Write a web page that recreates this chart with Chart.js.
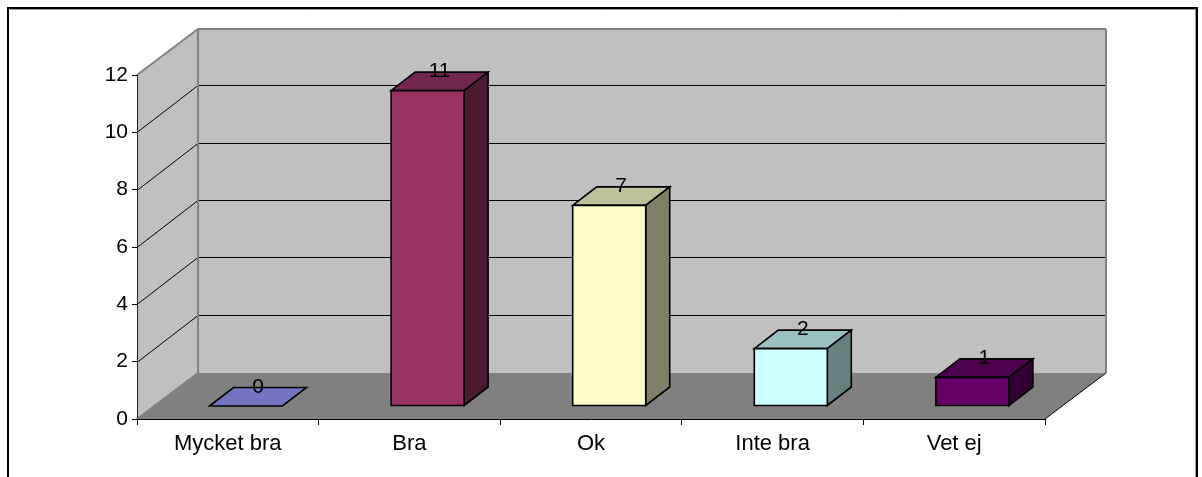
<!DOCTYPE html>
<html>
<head>
<meta charset="utf-8">
<style>
html,body{margin:0;padding:0;background:#fff;overflow:hidden}
#w{width:1202px;height:477px;position:relative}
</style>
<script src="https://cdn.jsdelivr.net/npm/chart.js@4"></script>
</head>
<body>
<div id="w"><canvas id="c" width="1202" height="477"></canvas></div>
<script>
const categories = ['Mycket bra', 'Bra', 'Ok', 'Inte bra', 'Vet ej'];
const values = [0, 11, 7, 2, 1];
const yMin = 0, yMax = 12, yStep = 2;

const frontColors = ['#7373BF', '#993366', '#FFFFCC', '#CCFFFF', '#660066'];
const topColors   = ['#7373BF', '#732650', '#BFBF99', '#99BFBF', '#4D004D'];
const sideColors  = ['#7373BF', '#4D1A33', '#808066', '#668080', '#330033'];

const FONT = '"Liberation Sans", Arial, sans-serif';
const FS_X = 22, FS_Y = 21, FS_LABEL = 21;
const wall = {dx: 61, dy: -46};      // depth of the back wall
const bar3d = {dx: 24, dy: -18.5};   // depth of each bar
const shift = {x: 18.2, y: -13};     // bars stand in the middle of the floor

function poly(ctx, pts, fill, stroke, lw) {
  ctx.beginPath();
  pts.forEach((p, i) => i ? ctx.lineTo(p[0], p[1]) : ctx.moveTo(p[0], p[1]));
  ctx.closePath();
  if (fill) { ctx.fillStyle = fill; ctx.fill(); }
  if (stroke) { ctx.strokeStyle = stroke; ctx.lineWidth = lw; ctx.lineJoin = 'miter'; ctx.stroke(); }
}
function line(ctx, x1, y1, x2, y2, color, lw) {
  ctx.beginPath(); ctx.moveTo(x1, y1); ctx.lineTo(x2, y2);
  ctx.strokeStyle = color; ctx.lineWidth = lw; ctx.stroke();
}

const scene3d = {
  id: 'scene3d',
  beforeDraw(chart) {
    const {ctx, chartArea: a, scales: {y}} = chart;
    const {dx, dy} = wall;
    ctx.save();
    // outer frame
    ctx.strokeStyle = '#000'; ctx.lineWidth = 2;
    ctx.strokeRect(8, 8, 1189, 600);
    line(ctx, 9.5, 9.5, 1196, 9.5, '#999', 1);
    line(ctx, 1195.5, 9.5, 1195.5, 477, '#999', 1);
    // walls and floor
    poly(ctx, [[a.left + dx, a.top + dy], [a.right + dx, a.top + dy], [a.right + dx, a.bottom + dy], [a.left + dx, a.bottom + dy]], '#C0C0C0');
    poly(ctx, [[a.left, a.top], [a.left + dx, a.top + dy], [a.left + dx, a.bottom + dy], [a.left, a.bottom]], '#C0C0C0');
    poly(ctx, [[a.left, a.bottom], [a.left + dx, a.bottom + dy], [a.right + dx, a.bottom + dy], [a.right, a.bottom]], '#808080');
    // gridlines on both walls
    y.ticks.forEach(t => {
      if (t.value === yMin || t.value === yMax) return;
      const py = y.getPixelForValue(t.value);
      const back = Math.round(py + dy) - 0.5;
      line(ctx, a.left, Math.round(py) + 0.5, a.left + dx, back, '#000', 1);
      line(ctx, a.left + dx, back, a.right + dx, back, '#000', 1);
    });
    // wall edges
    line(ctx, a.left, a.top, a.left + dx, a.top + dy, '#808080', 2);
    line(ctx, a.left + dx, a.top + dy, a.right + dx, a.top + dy, '#808080', 2);
    line(ctx, a.right + dx, a.top + dy, a.right + dx, a.bottom + dy, '#808080', 2);
    line(ctx, a.left + dx, a.top + dy, a.left + dx, a.bottom + dy, '#808080', 2);
    line(ctx, a.left, a.bottom, a.left + dx, a.bottom + dy, '#808080', 2);
    line(ctx, a.right, a.bottom, a.right + dx, a.bottom + dy, '#000', 1);
    ctx.restore();
  },
  beforeDatasetsDraw(chart) {
    const {ctx} = chart;
    const {dx, dy} = bar3d;
    ctx.save();
    ctx.translate(shift.x, shift.y);
    chart.getDatasetMeta(0).data.forEach((el, i) => {
      const p = el.getProps(['x', 'y', 'base', 'width'], true);
      const l = p.x - p.width / 2, r = p.x + p.width / 2;
      poly(ctx, [[l, p.y], [l + dx, p.y + dy], [r + dx, p.y + dy], [r, p.y]], topColors[i], '#000', 1.6);
      if (values[i] > 0) poly(ctx, [[r, p.y], [r + dx, p.y + dy], [r + dx, p.base + dy], [r, p.base]], sideColors[i], '#000', 1.6);
    });
  },
  afterDatasetsDraw(chart) {
    const {ctx} = chart;
    chart.getDatasetMeta(0).data.forEach((el, i) => {
      const p = el.getProps(['x', 'y', 'base', 'width'], true);
      const l = p.x - p.width / 2, r = p.x + p.width / 2;
      if (values[i] > 0) poly(ctx, [[l, p.y], [r, p.y], [r, p.base], [l, p.base]], null, '#000', 1.6);
    });
    chart.getDatasetMeta(0).data.forEach((el, i) => {
      const p = el.getProps(['x', 'y'], true);
      ctx.fillStyle = '#000';
      ctx.font = FS_LABEL + 'px ' + FONT;
      ctx.textAlign = 'center';
      ctx.textBaseline = 'middle';
      ctx.fillText(String(values[i]), p.x + bar3d.dx / 2, p.y - 19);
    });
    ctx.restore();
  }
};

new Chart(document.getElementById('c'), {
  type: 'bar',
  data: {
    labels: categories,
    datasets: [{
      data: values,
      backgroundColor: frontColors,
      borderWidth: 0,
      barPercentage: 0.402,
      categoryPercentage: 1,
      clip: false
    }]
  },
  plugins: [scene3d],
  options: {
    responsive: false,
    animation: false,
    devicePixelRatio: 1,
    layout: {padding: {left: 0, top: 75, right: 157, bottom: 0}},
    plugins: {legend: {display: false}, title: {display: false}, tooltip: {enabled: false}},
    scales: {
      x: {
        afterFit(s) { s.height = 58; },
        border: {display: true, color: '#000', width: 1},
        grid: {display: true, drawOnChartArea: false, drawTicks: true, tickLength: 6, color: '#000', lineWidth: 1},
        ticks: {color: '#000', font: {family: FONT, size: FS_X}, padding: 6, maxRotation: 0, autoSkip: false}
      },
      y: {
        min: yMin, max: yMax,
        afterFit(s) { s.width = 137; },
        border: {display: true, color: '#222', width: 1},
        grid: {display: true, drawOnChartArea: false, drawTicks: true, tickLength: 5, color: '#000', lineWidth: 1},
        ticks: {color: '#000', stepSize: yStep, font: {family: FONT, size: FS_Y}, padding: 4}
      }
    }
  }
});
</script>
</body>
</html>
